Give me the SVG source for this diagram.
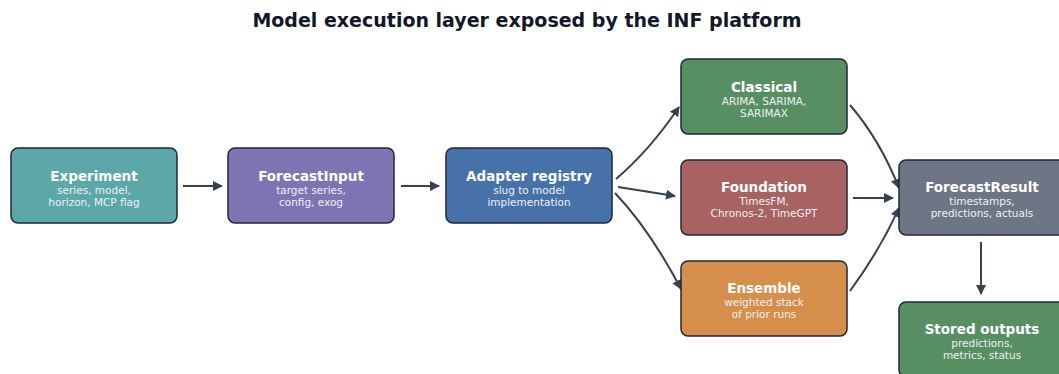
<svg xmlns="http://www.w3.org/2000/svg" width="1059" height="374" viewBox="0 0 1059 374">
<defs>
<marker id="ah" viewBox="0 0 10 10" refX="9" refY="5" markerWidth="10" markerHeight="10" markerUnits="userSpaceOnUse" orient="auto">
<path d="M0,0 L10,5 L0,10 Z" fill="#374151"/>
</marker>
<style>
.box{stroke:#1f2937;stroke-width:1.5}
.t{font-family:"DejaVu Sans",sans-serif;font-weight:bold;font-size:13.5px;fill:#ffffff;text-anchor:middle}
.s{font-family:"DejaVu Sans",sans-serif;font-size:10.5px;fill:#eef0f4;text-anchor:middle}
.c{fill:none;stroke:#374151;stroke-width:2;marker-end:url(#ah)}
</style>
</defs>
<rect width="1059" height="374" fill="#ffffff"/>
<text x="527" y="27" font-family="DejaVu Sans, sans-serif" font-weight="bold" font-size="19" fill="#111827" text-anchor="middle">Model execution layer exposed by the INF platform</text>
<g id="connectors">
<path class="c" d="M183,186 L222,186"/>
<path class="c" d="M401,186 L439,186"/>
<path class="c" d="M616,179 Q650,150 679,107"/>
<path class="c" d="M618,187 L675,196"/>
<path class="c" d="M615,193 Q650,230 681,289"/>
<path class="c" d="M850,105 Q880,140 899,188"/>
<path class="c" d="M853,198 L893,198"/>
<path class="c" d="M850,291 Q880,250 899,208"/>
<path class="c" d="M981,242 L981,294"/>
</g>
<g id="experiment">
<rect class="box" x="11" y="148" width="166" height="75" rx="7" fill="#5ca8a9"/>
<text class="t" x="94" y="181">Experiment</text>
<text class="s" x="94" y="194">series, model,</text>
<text class="s" x="94" y="206">horizon, MCP flag</text>
</g>
<g id="forecastinput">
<rect class="box" x="228" y="148" width="166" height="75" rx="7" fill="#7f74b3"/>
<text class="t" x="311" y="181">ForecastInput</text>
<text class="s" x="311" y="194">target series,</text>
<text class="s" x="311" y="206">config, exog</text>
</g>
<g id="adapter">
<rect class="box" x="446" y="148" width="166" height="75" rx="7" fill="#4672a9"/>
<text class="t" x="529" y="181">Adapter registry</text>
<text class="s" x="529" y="194">slug to model</text>
<text class="s" x="529" y="206">implementation</text>
</g>
<g id="classical">
<rect class="box" x="681" y="59" width="166" height="75" rx="7" fill="#578f62"/>
<text class="t" x="764" y="92">Classical</text>
<text class="s" x="764" y="105">ARIMA, SARIMA,</text>
<text class="s" x="764" y="117">SARIMAX</text>
</g>
<g id="foundation">
<rect class="box" x="681" y="160" width="166" height="75" rx="7" fill="#a86262"/>
<text class="t" x="764" y="192">Foundation</text>
<text class="s" x="764" y="205">TimesFM,</text>
<text class="s" x="764" y="217">Chronos-2, TimeGPT</text>
</g>
<g id="ensemble">
<rect class="box" x="681" y="261" width="166" height="75" rx="7" fill="#d68e4b"/>
<text class="t" x="764" y="293">Ensemble</text>
<text class="s" x="764" y="306">weighted stack</text>
<text class="s" x="764" y="318">of prior runs</text>
</g>
<g id="forecastresult">
<rect class="box" x="899" y="160" width="166" height="75" rx="7" fill="#6e7584"/>
<text class="t" x="982" y="192">ForecastResult</text>
<text class="s" x="982" y="205">timestamps,</text>
<text class="s" x="982" y="217">predictions, actuals</text>
</g>
<g id="stored">
<rect class="box" x="899" y="302" width="166" height="75" rx="7" fill="#578f62"/>
<text class="t" x="982" y="334">Stored outputs</text>
<text class="s" x="982" y="347">predictions,</text>
<text class="s" x="982" y="359">metrics, status</text>
</g>
</svg>
